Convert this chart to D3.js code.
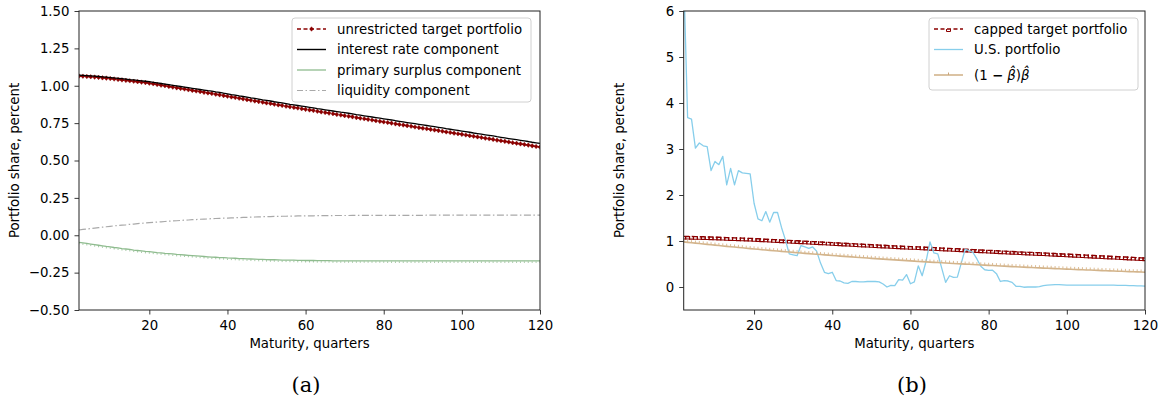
<!DOCTYPE html>
<html><head><meta charset="utf-8">
<script src="https://cdn.jsdelivr.net/npm/d3@7"></script>
<style>body{margin:0;background:#fff}svg{display:block}text{font-family:"DejaVu Sans",sans-serif;fill:#000}</style>
</head><body><svg id="c" width="1164" height="400"></svg>
<script>
// ---------- DATA ----------
const quarters = d3.range(2, 121); // maturities 2..120 quarters

const unrestrictedTarget = [1.065,1.064,1.062,1.060,1.058,1.056,1.053,1.051,1.048,
1.045,1.042,1.039,1.036,1.033,1.030,1.027,1.024,1.021,
1.017,1.013,1.008,1.004,1.000,0.995,0.991,0.986,0.982,
0.978,0.973,0.969,0.965,0.961,0.956,0.952,0.948,
0.943,0.939,0.934,0.930,0.925,0.921,0.916,0.912,0.907,
0.903,0.898,0.894,0.890,0.885,0.881,0.876,0.872,
0.868,0.863,0.859,0.855,0.851,0.846,0.842,
0.838,0.834,0.829,0.825,0.821,0.817,0.813,0.808,0.804,0.800,
0.796,0.792,0.787,0.783,0.779,0.775,0.771,0.766,0.762,0.758,
0.754,0.750,0.745,0.741,0.737,0.733,0.729,0.724,0.720,0.716,
0.712,0.708,0.704,0.700,0.696,0.691,0.687,0.683,0.679,0.675,
0.671,0.666,0.662,0.658,0.654,0.649,0.645,0.641,0.636,0.632,
0.628,0.624,0.619,0.615,0.611,0.607,0.603,0.598,0.594,0.590];

const interestRateComponent = [1.071,1.070,1.068,1.066,1.064,1.062,1.060,1.058,1.055,
1.052,1.050,1.047,1.044,1.041,1.039,1.036,1.033,1.030,
1.027,1.023,1.019,1.015,1.011,1.007,1.003,0.999,0.995,
0.991,0.987,0.983,0.979,0.975,0.971,0.967,0.964,
0.959,0.955,0.950,0.946,0.941,0.937,0.932,0.928,0.924,
0.919,0.915,0.911,0.906,0.902,0.898,0.893,0.889,
0.885,0.881,0.876,0.872,0.868,0.864,0.860,
0.856,0.852,0.847,0.843,0.839,0.835,0.831,0.827,0.823,0.820,
0.816,0.812,0.807,0.803,0.799,0.795,0.791,0.787,0.783,0.779,
0.775,0.771,0.766,0.762,0.758,0.754,0.750,0.746,0.742,0.738,
0.734,0.730,0.726,0.722,0.718,0.713,0.709,0.705,0.701,0.697,
0.693,0.689,0.684,0.680,0.676,0.672,0.668,0.664,0.659,0.655,
0.651,0.647,0.643,0.639,0.635,0.631,0.627,0.622,0.618,0.614];

const primarySurplusComponent = [-0.047,-0.051,-0.055,-0.059,-0.063,-0.067,-0.071,-0.075,-0.078,
-0.082,-0.085,-0.089,-0.092,-0.095,-0.099,-0.102,-0.105,-0.108,
-0.110,-0.113,-0.116,-0.118,-0.121,-0.123,-0.125,-0.128,-0.130,
-0.132,-0.134,-0.136,-0.138,-0.140,-0.142,-0.144,-0.146,
-0.147,-0.149,-0.150,-0.152,-0.153,-0.154,-0.156,-0.157,-0.158,
-0.159,-0.160,-0.161,-0.162,-0.163,-0.164,-0.164,-0.165,
-0.166,-0.166,-0.167,-0.167,-0.168,-0.168,-0.169,
-0.169,-0.169,-0.170,-0.170,-0.170,-0.170,-0.171,-0.171,-0.171,-0.171,
-0.171,-0.171,-0.171,-0.171,-0.171,-0.171,-0.171,-0.171,-0.171,-0.171,
-0.172,-0.172,-0.172,-0.172,-0.172,-0.172,-0.172,-0.172,-0.172,-0.172,
-0.172,-0.172,-0.172,-0.172,-0.172,-0.172,-0.172,-0.172,-0.172,-0.172,
-0.172,-0.172,-0.172,-0.172,-0.172,-0.172,-0.172,-0.172,-0.172,-0.172,
-0.172,-0.172,-0.172,-0.172,-0.172,-0.172,-0.172,-0.172,-0.172,-0.172];

const liquidityComponent = [0.035,0.039,0.042,0.045,0.048,0.051,0.054,0.057,0.060,
0.063,0.065,0.068,0.070,0.073,0.075,0.078,0.080,0.082,
0.084,0.086,0.088,0.090,0.092,0.094,0.096,0.097,0.099,
0.101,0.102,0.104,0.105,0.107,0.108,0.109,0.111,
0.112,0.113,0.114,0.115,0.116,0.117,0.118,0.119,0.120,
0.121,0.122,0.123,0.124,0.124,0.125,0.126,0.126,
0.127,0.127,0.128,0.128,0.129,0.129,0.130,
0.130,0.130,0.131,0.131,0.131,0.131,0.132,0.132,0.132,0.132,
0.132,0.133,0.133,0.133,0.133,0.133,0.133,0.133,0.133,0.133,
0.133,0.133,0.133,0.133,0.133,0.133,0.133,0.133,0.133,0.133,
0.134,0.134,0.134,0.134,0.134,0.134,0.134,0.134,0.134,0.134,
0.134,0.134,0.134,0.134,0.134,0.134,0.134,0.134,0.134,0.134,
0.134,0.134,0.134,0.134,0.134,0.134,0.134,0.134,0.134,0.134];

const cappedTarget = [1.100,1.099,1.097,1.095,1.093,1.091,1.088,1.086,1.083,
1.080,1.077,1.074,1.071,1.068,1.065,1.062,1.059,1.056,
1.052,1.048,1.043,1.039,1.035,1.030,1.026,1.021,1.017,
1.013,1.008,1.004,1.000,0.996,0.991,0.987,0.983,
0.978,0.974,0.969,0.965,0.960,0.956,0.951,0.947,0.942,
0.938,0.933,0.929,0.925,0.920,0.916,0.911,0.907,
0.903,0.898,0.894,0.890,0.886,0.881,0.877,
0.876,0.872,0.867,0.863,0.859,0.855,0.851,0.846,0.842,0.838,
0.834,0.830,0.825,0.821,0.817,0.813,0.809,0.804,0.800,0.796,
0.792,0.788,0.783,0.779,0.775,0.771,0.767,0.762,0.758,0.754,
0.752,0.748,0.744,0.740,0.736,0.731,0.727,0.723,0.719,0.715,
0.711,0.706,0.702,0.698,0.694,0.689,0.685,0.681,0.676,0.672,
0.668,0.664,0.659,0.655,0.651,0.647,0.643,0.638,0.634,0.630];

const usPortfolio = [6.8,3.68,3.65,3.02,3.13,3.07,3.05,2.53,2.73,2.66,
2.84,2.22,2.58,2.22,2.53,2.48,2.47,2.46,1.82,1.48,
1.44,1.64,1.41,1.62,1.62,1.30,1.03,0.72,0.70,0.68,
0.90,0.87,0.84,0.87,0.78,0.52,0.32,0.29,0.32,0.14,
0.13,0.09,0.08,0.12,0.12,0.11,0.11,0.12,0.12,0.12,
0.11,0.065,0.0,0.035,0.03,0.16,0.15,0.27,0.07,0.11,
0.46,0.245,0.56,0.98,0.74,0.72,0.41,0.10,0.245,0.21,
0.215,0.52,0.82,0.79,0.75,0.61,0.45,0.375,0.36,0.365,
0.29,0.12,0.14,0.13,0.10,0.015,0.015,-0.005,0.0,0.0,
0.0,0.01,0.03,0.04,0.045,0.05,0.05,0.045,0.04,0.04,
0.04,0.04,0.04,0.04,0.04,0.04,0.04,0.04,0.04,0.04,
0.04,0.035,0.035,0.035,0.03,0.03,0.025,0.025,0.02];

const betaWeights = [0.980,0.971,0.962,0.954,0.945,0.936,0.927,0.918,0.910,0.901,0.892,
0.884,0.876,0.868,0.860,0.852,0.843,0.835,0.827,0.819,0.811,
0.804,0.796,0.789,0.782,0.774,0.767,0.760,0.753,0.745,0.738,
0.731,0.725,0.718,0.712,0.705,0.698,0.692,0.685,0.679,0.672,
0.666,0.660,0.654,0.648,0.642,0.636,0.629,0.623,0.617,0.611,
0.606,0.600,0.595,0.589,0.584,0.578,0.573,0.567,0.562,0.556,
0.551,0.546,0.541,0.536,0.531,0.526,0.521,0.516,0.511,0.506,
0.502,0.497,0.493,0.488,0.484,0.479,0.475,0.470,0.466,0.461,
0.457,0.453,0.448,0.444,0.440,0.436,0.432,0.427,0.423,0.419,
0.415,0.411,0.408,0.404,0.400,0.396,0.392,0.389,0.385,0.381,
0.378,0.374,0.371,0.368,0.364,0.361,0.357,0.354,0.350,0.347,
0.344,0.341,0.338,0.334,0.331,0.328,0.325,0.322];

const xTicks = [20, 40, 60, 80, 100, 120];
const yTicksA = [-0.50,-0.25,0.00,0.25,0.50,0.75,1.00,1.25,1.50];
const yTicksB = [0,1,2,3,4,5,6];
const legendA = ["unrestricted target portfolio","interest rate component","primary surplus component","liquidity component"];
const legendB = ["capped target portfolio","U.S. portfolio"];

// ---------- DRAW ----------
const svg = d3.select("#c");
const FS = 13.3;
const DR = "#8b0000", GREEN = "#8fbc8f", GREY = "#a9a9a9", SKY = "#87ceeb", TAN = "#d2b48c";
const fmtA = d => (d < 0 ? "\u2212" : "") + Math.abs(d).toFixed(2);
const fmtB = d => String(d);

function panel(id, box, yDomain, yTicks, fmt, caption, capX) {
  const g = svg.append("g");
  const x = d3.scaleLinear().domain([2, 120]).range([box.l, box.r]);
  const y = d3.scaleLinear().domain(yDomain).range([box.b, box.t]);
  svg.append("clipPath").attr("id", "clip" + id).append("rect")
    .attr("x", box.l).attr("y", box.t).attr("width", box.r - box.l).attr("height", box.b - box.t);
  const xa = g.append("g").attr("transform", `translate(0,${box.b})`)
    .call(d3.axisBottom(x).tickValues(xTicks).tickSize(4.5).tickPadding(6.5).tickFormat(d3.format("d")));
  const ya = g.append("g").attr("transform", `translate(${box.l},0)`)
    .call(d3.axisLeft(y).tickValues(yTicks).tickSize(4.5).tickPadding(5).tickFormat(fmt));
  [xa, ya].forEach(a => {
    a.select(".domain").remove();
    a.selectAll("line").attr("stroke", "#222").attr("stroke-width", 0.9);
    a.selectAll("text").style("font-size", FS + "px").style("font-family", "DejaVu Sans").attr("fill", "#000");
  });
  g.append("text").attr("x", (box.l + box.r) / 2).attr("y", 348).attr("text-anchor", "middle")
    .style("font-size", FS + "px").text("Maturity, quarters");
  g.append("text").attr("transform", `translate(${box.l - 60},${(box.t + box.b) / 2}) rotate(-90)`)
    .attr("text-anchor", "middle").style("font-size", FS + "px").text("Portfolio share, percent");
  g.append("text").attr("x", capX).attr("y", 392).attr("text-anchor", "middle")
    .style("font-family", "'DejaVu Serif', serif").style("font-size", "21px").text(caption);
  const plot = g.append("g").attr("clip-path", `url(#clip${id})`);
  return {g, x, y, plot, box};
}

function series(P, vals, opts) {
  const line = d3.line().x((d, i) => P.x(quarters[i])).y(d => P.y(d));
  P.plot.append("path").datum(vals).attr("d", line).attr("fill", "none")
    .attr("stroke", opts.color).attr("stroke-width", opts.w || 1.2)
    .attr("stroke-dasharray", opts.dash || null).attr("stroke-linejoin", "round");
  if (opts.marker) {
    P.plot.append("g").selectAll("path").data(vals).join("path")
      .attr("transform", (d, i) => `translate(${P.x(quarters[i])},${P.y(d)})`)
      .attr("d", opts.marker).attr("fill", opts.mfill || "none")
      .attr("stroke", opts.mcolor || opts.color).attr("stroke-width", opts.mw || 1);
  }
}

function frame(P) {
  P.g.append("rect").attr("x", P.box.l).attr("y", P.box.t).attr("width", P.box.r - P.box.l)
    .attr("height", P.box.b - P.box.t).attr("fill", "none").attr("stroke", "#222").attr("stroke-width", 1);
}

function legend(P, bx, by, bw, bh, rows) {
  const g = P.g.append("g");
  g.append("rect").attr("x", bx).attr("y", by).attr("width", bw).attr("height", bh).attr("rx", 3)
    .attr("fill", "#fff").attr("fill-opacity", 0.85).attr("stroke", "#d0d0d0").attr("stroke-width", 1);
  rows.forEach(r => {
    g.append("line").attr("x1", bx + 5).attr("x2", bx + 34).attr("y1", r.y).attr("y2", r.y)
      .attr("stroke", r.color).attr("stroke-width", r.w || 1.2).attr("stroke-dasharray", r.dash || null);
    if (r.marker) g.append("path").attr("transform", `translate(${bx + 19.5},${r.y})`).attr("d", r.marker)
      .attr("fill", r.mfill || "none").attr("stroke", r.mcolor || r.color).attr("stroke-width", r.mw || 1);
    const t = g.append("text").attr("x", bx + 45).attr("y", r.y).attr("dy", "0.36em").style("font-size", FS + "px");
    if (r.label !== null) t.text(r.label); else r.build(t);
  });
}

const DIAM = "M0,-2.3L2,0L0,2.3L-2,0Z";
const UMARK = "M-2,-0.5V2.6H2V-0.5";
const TICKUP = "M0,0V-2.6";
const TICKDN = "M0,0.5V2";

// Panel (a)
const A = panel("a", {l: 79, r: 540, t: 11, b: 310}, [-0.5, 1.5], yTicksA, fmtA, "(a)", 306);
series(A, liquidityComponent, {color: GREY, dash: "7,2.5,1.5,2.5", w: 1.2});
series(A, primarySurplusComponent, {color: GREEN, w: 1.3, marker: TICKDN, mcolor: GREEN, mw: 0.8});
series(A, unrestrictedTarget, {color: DR, dash: "5.5,2.5", w: 1.5, marker: DIAM, mfill: DR, mw: 0.4});
series(A, interestRateComponent, {color: "#000", w: 1.3});
frame(A);
legend(A, 292, 18, 239, 84, [
  {y: 29, color: DR, dash: "4,2.5", w: 1.5, marker: DIAM, mfill: DR, mw: 0.4, label: legendA[0]},
  {y: 49.5, color: "#000", w: 1.4, label: legendA[1]},
  {y: 70, color: GREEN, w: 1.3, label: legendA[2]},
  {y: 90.5, color: GREY, dash: "6,2.5,1.5,2.5", w: 1.2, label: legendA[3]}
]);

// Panel (b)
const B = panel("b", {l: 683.7, r: 1145, t: 11, b: 310}, [-0.5, 6], yTicksB, fmtB, "(b)", 912);
series(B, cappedTarget, {color: DR, dash: "5.5,2.5", w: 1.4, marker: UMARK, mcolor: DR, mw: 1.1});
series(B, usPortfolio, {color: SKY, w: 1.3});
series(B, betaWeights, {color: TAN, w: 1.6, marker: TICKUP, mcolor: "#d9b58a", mw: 0.9});
frame(B);
legend(B, 929, 18, 209, 72, [
  {y: 29, color: DR, dash: "4,2.5", w: 1.4, marker: "M-2,0V2.5H2V0", mcolor: DR, mw: 1, label: legendB[0]},
  {y: 49.5, color: SKY, w: 1.3, label: legendB[1]},
  {y: 75, color: TAN, w: 1.6, marker: "M0,0V-2.5", mcolor: "#c9a57a", label: null, build: t => {
    t.append("tspan").text("(1 ");
    t.append("tspan").style("font-weight", "bold").text("\u2212");
    t.append("tspan").text(" ");
    t.append("tspan").style("font-style", "italic").text("\u03b2\u0302");
    t.append("tspan").text(")");
    t.append("tspan").style("font-style", "italic").text("\u03b2\u0302");
  }}
]);
</script></body></html>
